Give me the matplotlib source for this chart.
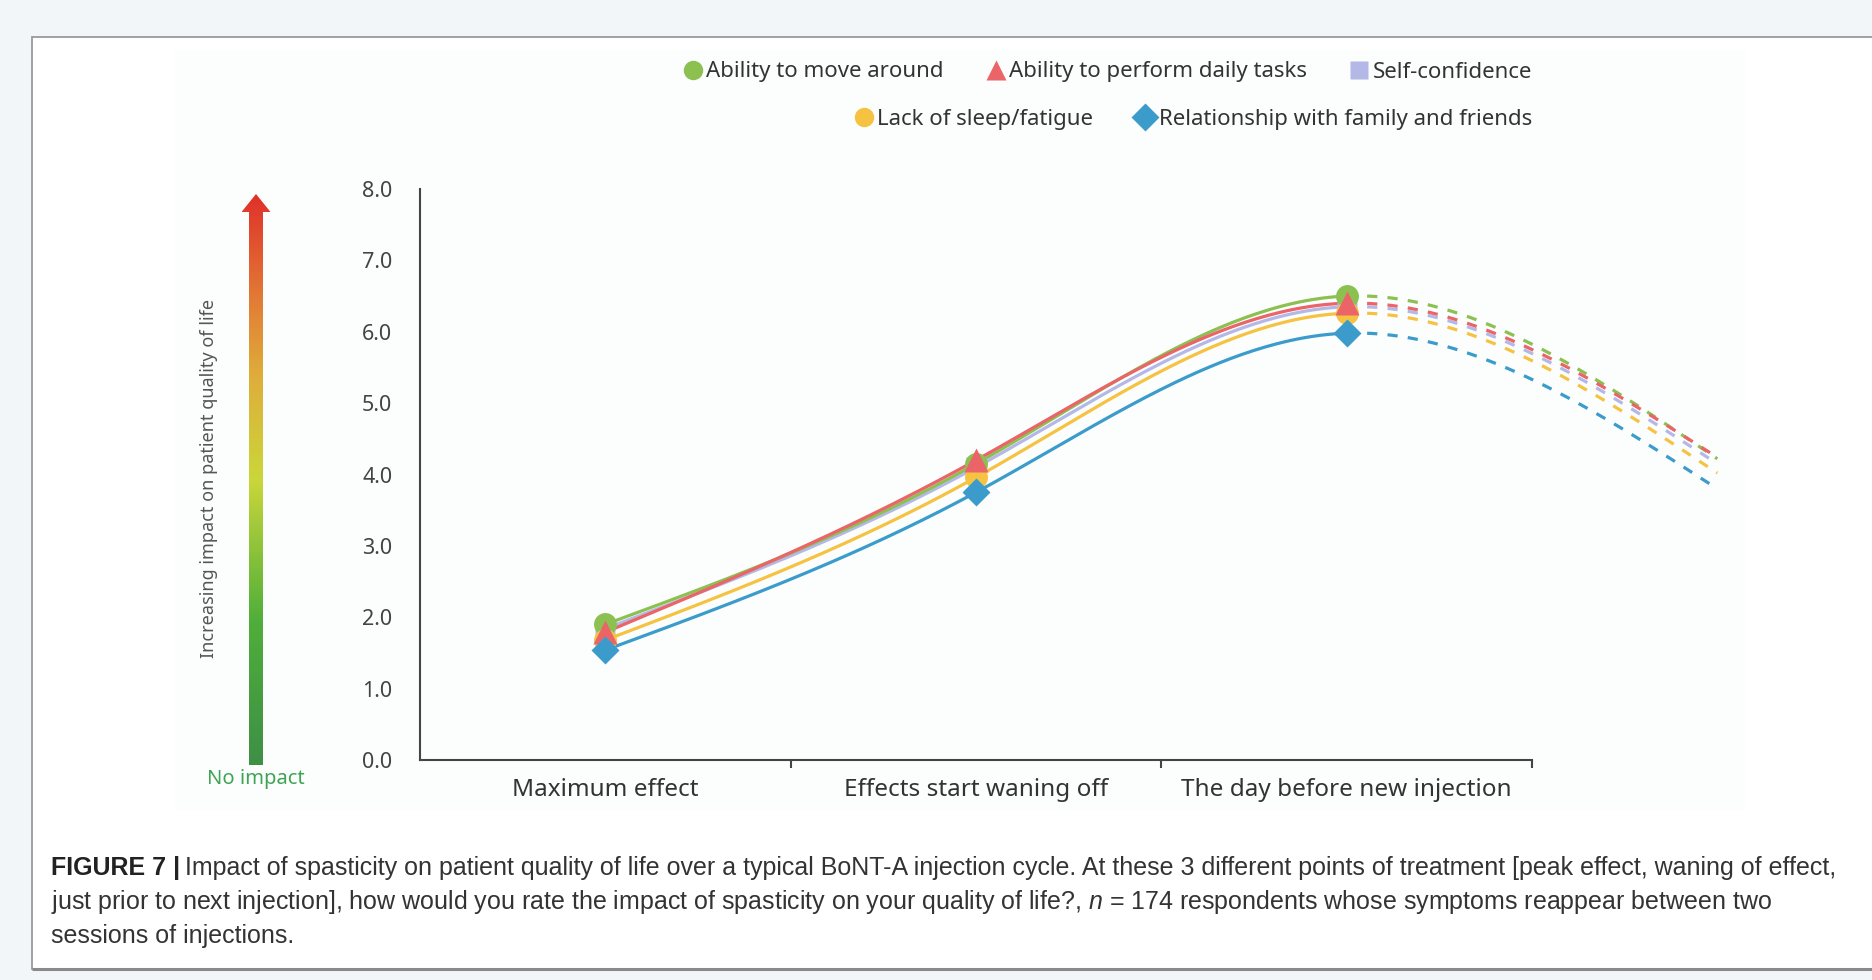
import matplotlib
matplotlib.use("Agg")
import matplotlib.pyplot as plt
import numpy as np
from matplotlib.patches import Rectangle, Polygon
from matplotlib.colors import LinearSegmentedColormap
from matplotlib.lines import Line2D

plt.rcParams['font.family'] = ['Noto Sans', 'DejaVu Sans']
plt.rcParams['mathtext.fontset'] = 'custom'
plt.rcParams['mathtext.rm'] = 'Liberation Sans'
plt.rcParams['mathtext.it'] = 'Liberation Sans:italic'

# data
categories = ["Maximum effect", "Effects start waning off", "The day before new injection"]
series = ["Ability to move around", "Ability to perform daily tasks", "Self-confidence",
          "Lack of sleep/fatigue", "Relationship with family and friends"]
move_around = [1.90, 4.15, 6.50]
daily_tasks = [1.79, 4.20, 6.40]
self_conf = [1.84, 4.10, 6.35]
sleep_fatigue = [1.68, 3.96, 6.26]
family_friends = [1.54, 3.75, 5.98]
# where the dashed continuation ends (next cycle)
next_cycle = [4.22, 4.24, 4.15, 4.02, 3.80]
y_ticks = [0, 1, 2, 3, 4, 5, 6, 7, 8]

colors = ["#8cc152", "#ea6468", "#b4b8e6", "#f5c242", "#3b9ccb"]
markers = ["o", "^", "s", "o", "D"]
msizes = [16.5, 17.5, 14, 16.5, 14]
draw_order = [2, 0, 3, 1, 4]


def natural_spline(xp, yp, xs):
    xp = np.asarray(xp, float); yp = np.asarray(yp, float)
    n = len(xp)
    h = np.diff(xp)
    A = np.zeros((n, n)); r = np.zeros(n)
    A[0, 0] = A[-1, -1] = 1
    for i in range(1, n - 1):
        A[i, i - 1] = h[i - 1]; A[i, i] = 2 * (h[i - 1] + h[i]); A[i, i + 1] = h[i]
        r[i] = 6 * ((yp[i + 1] - yp[i]) / h[i] - (yp[i] - yp[i - 1]) / h[i - 1])
    M = np.linalg.solve(A, r)
    out = np.empty_like(xs)
    for k, x in enumerate(xs):
        i = min(np.searchsorted(xp, x, side='right') - 1, n - 2)
        i = max(i, 0)
        t0 = xp[i + 1] - x; t1 = x - xp[i]
        out[k] = (M[i] * t0**3 + M[i + 1] * t1**3) / (6 * h[i]) \
            + (yp[i] / h[i] - M[i] * h[i] / 6) * t0 + (yp[i + 1] / h[i] - M[i + 1] * h[i] / 6) * t1
    return out


W, H = 1872, 980
fig = plt.figure(figsize=(W / 100, H / 100), dpi=100, facecolor="#f3f6f9")

# background / overlay axes in pixel coordinates
bg = fig.add_axes([0, 0, 1, 1])
bg.set_xlim(0, W); bg.set_ylim(H, 0); bg.axis('off'); bg.set_zorder(0)
bg.add_patch(Rectangle((32, 37), 1900, 932, facecolor="white", edgecolor="#9a9a9a", lw=1.3))
bg.plot([32, 1872], [969, 969], color="#8a8a8a", lw=2.2, solid_capstyle='butt')
bg.add_patch(Rectangle((175, 50), 1570, 760, facecolor="#fcfefe", edgecolor="none"))

# gradient arrow
cmap = LinearSegmentedColormap.from_list("imp", [
    (0.0, "#3f8f46"), (0.25, "#4fae3a"), (0.5, "#cbd63b"),
    (0.68, "#dfae3a"), (0.82, "#e27a36"), (1.0, "#e0302a")])
x0, ybot, ybase, ytip = 256, 765, 212, 194
sw, hw = 7, 14.5
arrow = Polygon([(x0 - sw, ybot), (x0 - sw, ybase), (x0 - hw, ybase), (x0, ytip),
                 (x0 + hw, ybase), (x0 + sw, ybase), (x0 + sw, ybot)], closed=True,
                facecolor="none", edgecolor="none")
bg.add_patch(arrow)
grad = np.linspace(1, 0, 256).reshape(-1, 1)
im = bg.imshow(grad, cmap=cmap, extent=(x0 - hw, x0 + hw, ybot, ytip), aspect='auto',
               interpolation='bicubic', zorder=3)
bg.set_xlim(0, W); bg.set_ylim(H, 0)
im.set_clip_path(arrow)
bg.text(209, 478, "Increasing impact on patient quality of life", rotation=90,
        ha='center', va='center', fontsize=13, color="#555555")
bg.text(256, 779, "No impact", ha='center', va='center', fontsize=14.5, color="#3ea454")

# main axes
ax = fig.add_axes([420 / W, 1 - 760 / H, (1532 - 420) / W, (760 - 189) / H])
ax.set_zorder(2)
ax.patch.set_alpha(0)
x = np.arange(len(categories))
vals = [move_around, daily_tasks, self_conf, sleep_fatigue, family_friends]
xs_solid = np.linspace(0, 2, 200)
xs_dash = np.linspace(2, 3, 100)
for i in draw_order:
    pts = vals[i] + [next_cycle[i]]
    ax.plot(xs_solid, natural_spline([0, 1, 2, 3], pts, xs_solid), color=colors[i], lw=2.3, zorder=3)
    ax.plot(xs_dash, natural_spline([0, 1, 2, 3], pts, xs_dash), color=colors[i], lw=2.3,
            ls=(0, (3.2, 3.2)), clip_on=False, zorder=3)
for i in draw_order:
    ax.plot(x, vals[i], linestyle='none', marker=markers[i], ms=msizes[i],
            color=colors[i], mec='none', label=series[i], zorder=4, clip_on=False)

ax.set_xlim(-0.5, 2.5)
ax.set_ylim(0, 8)
ax.set_yticks(y_ticks)
ax.set_yticklabels([f"{v:.1f}" for v in y_ticks], fontsize=15.5, color="#444444")
ax.tick_params(axis='y', length=0, pad=20)
ax.set_xticks([0.5, 1.5, 2.5])
ax.set_xticklabels([])
ax.tick_params(axis='x', which='major', length=6, width=1.5, color="#444444", direction='out')
ax.set_xticks(x, minor=True)
ax.set_xticklabels(categories, minor=True, fontsize=17.5, color="#333333")
ax.tick_params(axis='x', which='minor', length=0, pad=13)
for s in ['top', 'right']:
    ax.spines[s].set_visible(False)
for s in ['left', 'bottom']:
    ax.spines[s].set_color("#444444"); ax.spines[s].set_linewidth(1.5)

leg_handles = [Line2D([], [], linestyle='none', marker=markers[i], ms=14 if markers[i] != 's' else 12.5,
                      color=colors[i], mec='none') for i in range(5)]
leg_kw = dict(frameon=False, fontsize=16, handletextpad=0.15, columnspacing=1.9,
              handlelength=0.9, labelcolor="#333333", borderaxespad=0, borderpad=0)
leg1 = ax.legend(leg_handles[:3], series[:3], ncol=3, loc='center right',
                 bbox_to_anchor=(1532 / W, 1 - 72 / H), bbox_transform=fig.transFigure, **leg_kw)
ax.add_artist(leg1)
ax.legend(leg_handles[3:], series[3:], ncol=2, loc='center right',
          bbox_to_anchor=(1532 / W, 1 - 119 / H), bbox_transform=fig.transFigure, **leg_kw)

# caption
cap_fs = 18
cap_font = 'Liberation Sans'
line1 = ("Impact of spasticity on patient quality of life over a typical BoNT-A injection cycle. "
         "At these 3 different points of treatment [peak effect, waning of effect,")
line2 = ("just prior to next injection], how would you rate the impact of spasticity on your "
         "quality of life?, $n$ = 174 respondents whose symptoms reappear between two")
line3 = "sessions of injections."
t = bg.text(51, 868, "FIGURE 7 |", fontsize=cap_fs, fontweight='bold', family=cap_font,
            color="#222222", va='center', ha='left')
fig.canvas.draw()
bb = t.get_window_extent()
bg.text(51 + bb.width + 5, 868, line1, fontsize=cap_fs, family=cap_font, color="#333333",
        va='center', ha='left')
bg.text(51, 902, line2, fontsize=cap_fs, family=cap_font, color="#333333", va='center', ha='left')
bg.text(51, 936, line3, fontsize=cap_fs, family=cap_font, color="#333333", va='center', ha='left')

fig.savefig("out.png", dpi=100, facecolor=fig.get_facecolor())
